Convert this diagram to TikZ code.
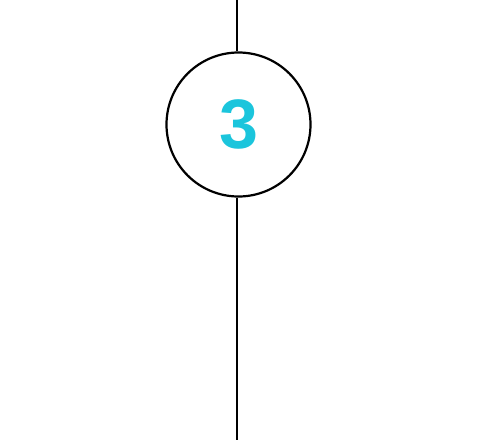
\documentclass[tikz,border=0pt]{standalone}
\usepackage{fontspec}
\setmainfont{Liberation Sans}
\definecolor{numcyan}{HTML}{1BC5DC}
\begin{document}
\begin{tikzpicture}[x=1pt,y=-1pt,numcircle/.style = {draw, circle, line width=2.2pt, minimum size=144pt, inner sep=0pt, text=numcyan, font=\fontsize{70}{70}\selectfont\bfseries}]
\useasboundingbox (0,0) rectangle (478,440);
\node[numcircle](num) at (238.5,124.5) {3};
\coordinate (top) at (237,0);
\coordinate (bottom) at (237,440);
\draw[line width=1.4pt] (top) -- (top |- num.north);
\draw[line width=1.4pt] (bottom |- num.south) -- (bottom);
\end{tikzpicture}
\end{document}
